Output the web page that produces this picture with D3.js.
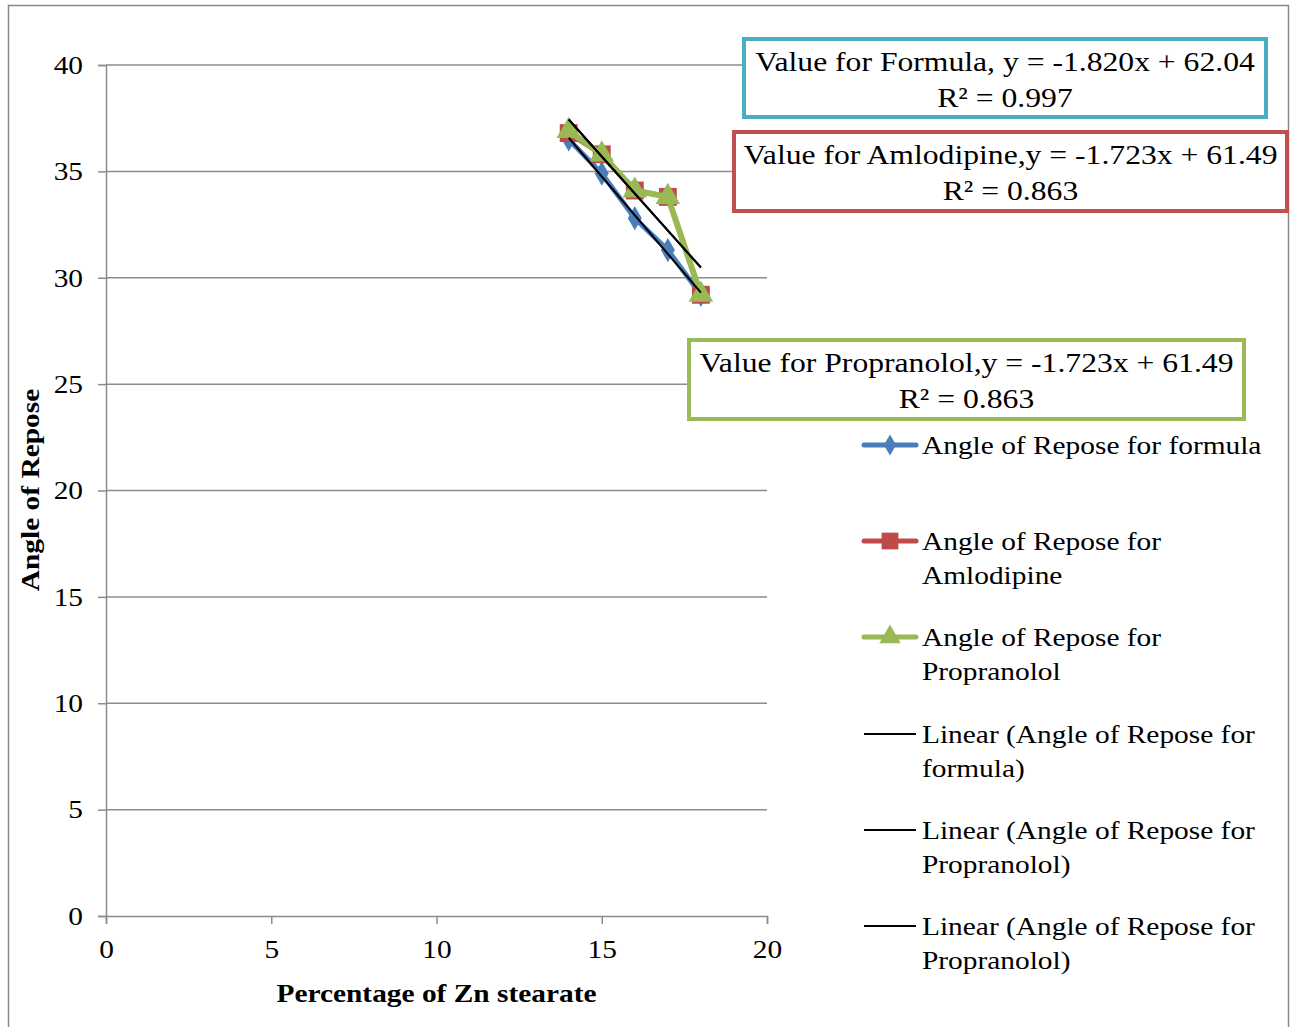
<!DOCTYPE html>
<html>
<head>
<meta charset="utf-8">
<script src="https://cdn.jsdelivr.net/npm/d3@7"></script>
<style>
  body { margin: 0; background: #fff; }
  text { font-family: "Liberation Serif", "Times New Roman", serif; fill: #000; }
</style>
</head>
<body>
<script>
const zinc = [14, 15, 16, 17, 18];
const formulaVals = [36.5, 34.9, 32.8, 31.3, 29.2];
const amlodipineVals = [36.8, 35.8, 34.1, 33.8, 29.2];
const propranololVals = [36.9, 35.8, 34.1, 33.8, 29.2];
const xTicks = [0, 5, 10, 15, 20];
const yTicks = [0, 5, 10, 15, 20, 25, 30, 35, 40];
const legendLabels = [
  ['Angle of Repose for formula'],
  ['Angle of Repose for', 'Amlodipine'],
  ['Angle of Repose for', 'Propranolol'],
  ['Linear (Angle of Repose for', 'formula)'],
  ['Linear (Angle of Repose for', 'Propranolol)'],
  ['Linear (Angle of Repose for', 'Propranolol)']
];
const equationLabels = [
  ['Value for Formula, y = -1.820x + 62.04', 'R² = 0.997'],
  ['Value for Amlodipine,y = -1.723x + 61.49', 'R² = 0.863'],
  ['Value for Propranolol,y = -1.723x + 61.49', 'R² = 0.863']
];

const width = 1295, height = 1027;
const stretch = 1.13; // text in the source is drawn a little wide
const svg = d3.select('body').append('svg')
  .attr('width', width).attr('height', height);

// outer chart border
svg.append('rect')
  .attr('x', 8.5).attr('y', 5.5).attr('width', 1280).attr('height', 1030)
  .attr('fill', '#fff').attr('stroke', '#888').attr('stroke-width', 1.5);

const x = d3.scaleLinear().domain([0, 20]).range([106, 767]);
const y = d3.scaleLinear().domain([0, 40]).range([916, 65]);

// gridlines
svg.append('g')
  .selectAll('line')
  .data(yTicks.filter(d => d > 0))
  .join('line')
  .attr('x1', x(0)).attr('x2', x(20))
  .attr('y1', d => y(d)).attr('y2', d => y(d))
  .attr('stroke', '#8c8c8c').attr('stroke-width', 1.5);

// axes
const yAxis = svg.append('g')
  .attr('transform', `translate(${x(0)},0)`)
  .call(d3.axisLeft(y).tickValues(yTicks).tickSize(8).tickPadding(15));
const xAxis = svg.append('g')
  .attr('transform', `translate(0,${y(0)})`)
  .call(d3.axisBottom(x).tickValues(xTicks).tickSize(8).tickPadding(16));
[xAxis, yAxis].forEach(a => {
  a.select('.domain').attr('stroke', '#8c8c8c').attr('stroke-width', 1.5);
  a.selectAll('.tick line').attr('stroke', '#8c8c8c').attr('stroke-width', 1.5);
  a.selectAll('.tick text')
    .style('font-family', '"Liberation Serif", serif')
    .style('font-size', '26px').attr('fill', '#000');
});

// axis titles
svg.append('text')
  .attr('x', x(10)).attr('y', 1002)
  .attr('text-anchor', 'middle')
  .style('font-size', '26px').style('font-weight', 'bold')
  .text('Percentage of Zn stearate');
svg.append('text')
  .attr('transform', 'translate(39,490) rotate(-90)')
  .attr('text-anchor', 'middle')
  .style('font-size', '26px').style('font-weight', 'bold')
  .text('Angle of Repose');

// series
const series = [
  { vals: formulaVals, color: '#4a7ebb', marker: d3.symbolDiamond, size: 170, w: 5 },
  { vals: amlodipineVals, color: '#be4b48', marker: d3.symbolSquare, size: 320, w: 5 },
  { vals: propranololVals, color: '#98b954', marker: d3.symbolTriangle, size: 260, w: 6 }
];

const line = d3.line().x(d => x(d[0])).y(d => y(d[1]));

series.forEach(s => {
  const pts = zinc.map((z, i) => [z, s.vals[i]]);
  svg.append('path')
    .attr('d', line(pts))
    .attr('fill', 'none').attr('stroke', s.color).attr('stroke-width', s.w)
    .attr('stroke-linejoin', 'round');
  svg.append('g')
    .selectAll('path')
    .data(pts)
    .join('path')
    .attr('transform', d => `translate(${x(d[0])},${y(d[1])})`)
    .attr('d', d3.symbol().type(s.marker).size(s.size))
    .attr('fill', s.color);
});

// linear trendlines (least squares)
function fit(xs, ys) {
  const mx = d3.mean(xs), my = d3.mean(ys);
  const b = d3.sum(xs, (v, i) => (v - mx) * (ys[i] - my)) / d3.sum(xs, v => (v - mx) ** 2);
  return { b, a: my - b * mx };
}
[formulaVals, propranololVals, propranololVals].forEach(vals => {
  const f = fit(zinc, vals);
  const x0 = d3.min(zinc), x1 = d3.max(zinc);
  svg.append('path')
    .attr('d', line([[x0, f.a + f.b * x0], [x1, f.a + f.b * x1]]))
    .attr('stroke', '#000').attr('stroke-width', 2).attr('fill', 'none');
});

// equation boxes
const boxes = [
  { x: 744, y: 39, w: 522, h: 78, color: '#4bacc6' },
  { x: 734, y: 132, w: 553, h: 79, color: '#c0504d' },
  { x: 689, y: 340, w: 555, h: 79, color: '#9bbb59' }
];
boxes.forEach((b, i) => {
  svg.append('rect')
    .attr('x', b.x).attr('y', b.y).attr('width', b.w).attr('height', b.h)
    .attr('fill', '#fff').attr('stroke', b.color).attr('stroke-width', 4);
  equationLabels[i].forEach((t, j) => {
    svg.append('text')
      .attr('x', b.x + b.w / 2).attr('y', b.y + 32 + j * 36)
      .attr('text-anchor', 'middle')
      .style('font-size', '28px')
      .text(t);
  });
});

// legend
const legendY = [445, 541, 637, 734, 830, 926];
const legendStyle = [
  { color: '#4a7ebb', marker: d3.symbolDiamond, size: 130, w: 5 },
  { color: '#be4b48', marker: d3.symbolSquare, size: 280, w: 5 },
  { color: '#98b954', marker: d3.symbolTriangle, size: 200, w: 5 },
  { color: '#000', marker: null, w: 2 },
  { color: '#000', marker: null, w: 2 },
  { color: '#000', marker: null, w: 2 }
];
legendLabels.forEach((lines, i) => {
  const st = legendStyle[i];
  const g = svg.append('g').attr('transform', `translate(0,${legendY[i]})`);
  g.append('line')
    .attr('x1', 864).attr('x2', 916)
    .attr('stroke', st.color).attr('stroke-width', st.w)
    .attr('stroke-linecap', st.marker ? 'round' : 'butt');
  if (st.marker) {
    g.append('path')
      .attr('transform', 'translate(890,0)')
      .attr('d', d3.symbol().type(st.marker).size(st.size))
      .attr('fill', st.color);
  }
  lines.forEach((t, j) => {
    g.append('text')
      .attr('x', 922).attr('y', 9 + j * 34)
      .style('font-size', '26px')
      .text(t);
  });
});

// widen every text to the proportions of the source
svg.selectAll('text').each(function() {
  const len = this.getComputedTextLength();
  if (len > 0) {
    d3.select(this)
      .attr('textLength', len * stretch)
      .attr('lengthAdjust', 'spacingAndGlyphs');
  }
});
</script>
</body>
</html>
